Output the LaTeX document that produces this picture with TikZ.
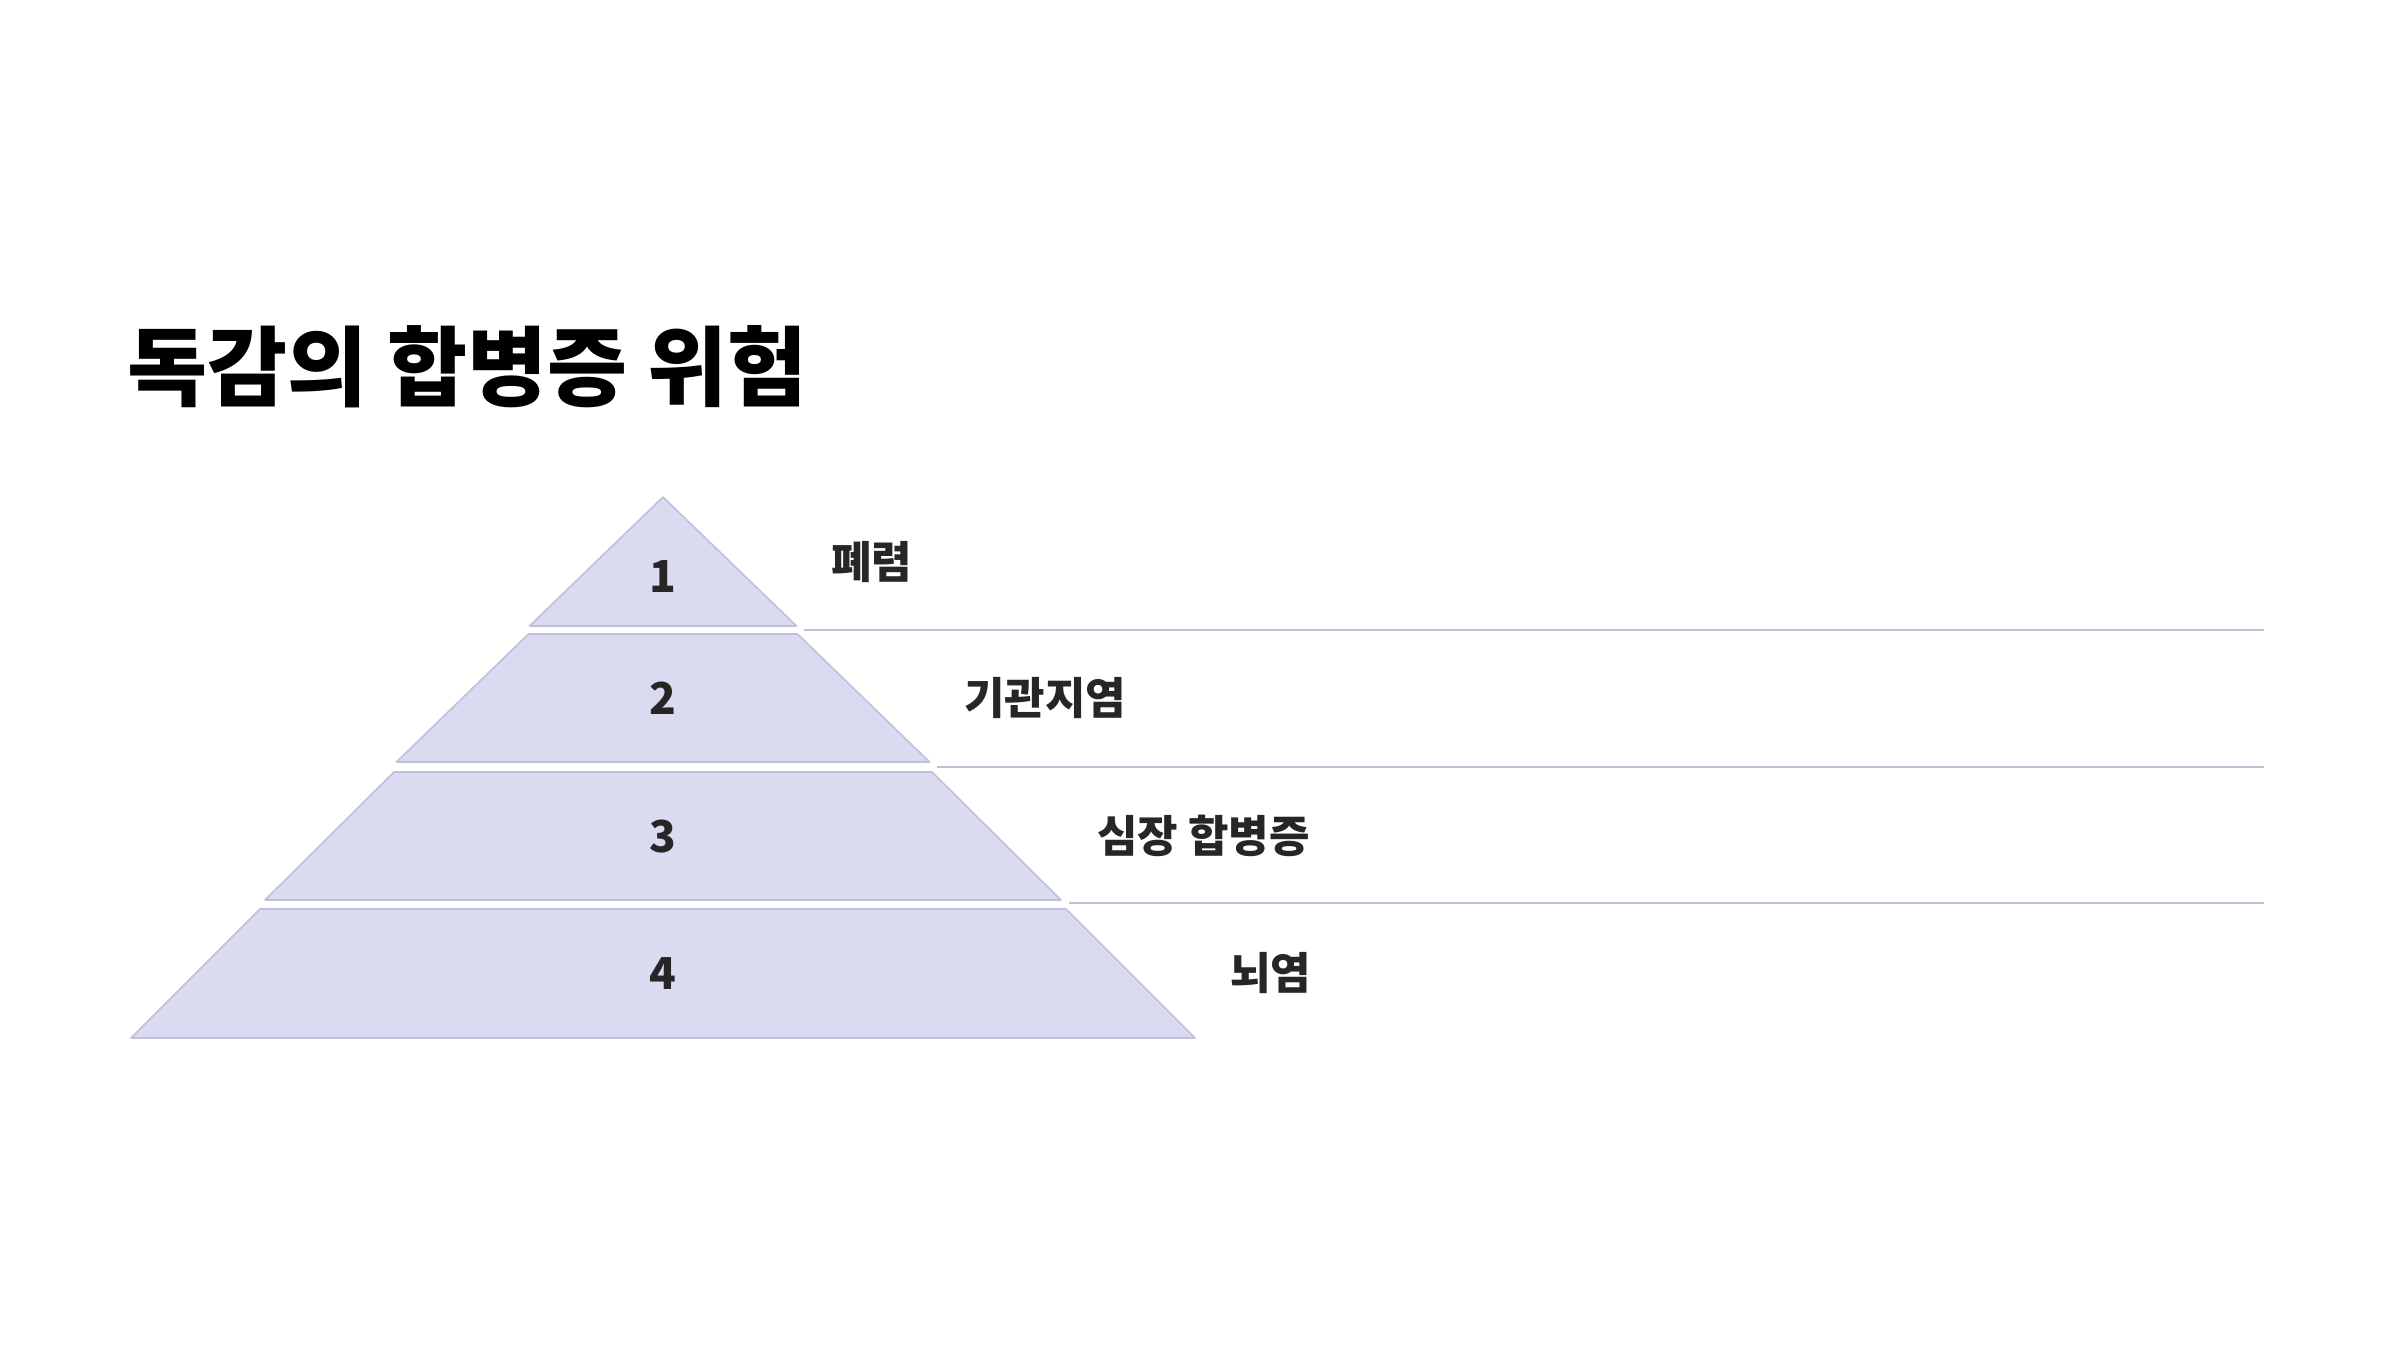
\documentclass[tikz,border=0pt]{standalone}
\usepackage{fontspec}
\setmainfont{Noto Sans CJK KR}
\definecolor{tierfill}{RGB}{218,218,240}
\definecolor{tierdraw}{RGB}{192,192,220}
\definecolor{sepline}{RGB}{192,192,214}
\definecolor{labeltext}{RGB}{38,38,38}
\begin{document}
\begin{tikzpicture}[x=1pt,y=-1pt,
  tier/.style={fill=tierfill,draw=tierdraw,line width=1.6pt,line join=round},
  sep/.style={draw=sepline,line width=1.8pt},
  num/.style={font=\fontsize{44}{48}\selectfont\bfseries,text=labeltext,anchor=base,inner sep=0pt},
  lab/.style={font=\fontsize{44}{48}\selectfont\bfseries,text=labeltext,anchor=base west,inner sep=0pt},
  ttl/.style={font=\fontsize{87}{92}\selectfont\bfseries,text=black,anchor=base west,inner sep=0pt}]
\useasboundingbox (0,0) rectangle (2400,1350);
\fill[white] (0,0) rectangle (2400,1350);

\node[ttl] (title) at (127,399) {독감의 합병증 위험};

% tiers
\path[tier] (663,497) -- (796.5,626) -- (529.5,626) -- cycle;
\path[tier] (528.5,634) -- (797.5,634) -- (929.5,762) -- (396.5,762) -- cycle;
\path[tier] (394,772) -- (932,772) -- (1061,900) -- (265,900) -- cycle;
\path[tier] (260,909) -- (1066,909) -- (1195,1038) -- (131,1038) -- cycle;

% separator lines
\coordinate (s1a) at (804,630);  \coordinate (s1b) at (2264,630);
\coordinate (s2a) at (937,767);  \coordinate (s2b) at (2264,767);
\coordinate (s3a) at (1069,903); \coordinate (s3b) at (2264,903);
\draw[sep] (s1a) -- (s1b);
\draw[sep] (s2a) -- (s2b);
\draw[sep] (s3a) -- (s3b);

% numbers
\node[num] (n1) at (663,592) {1};
\node[num] (n2) at (663,714) {2};
\node[num] (n3) at (663,852) {3};
\node[num] (n4) at (663,989) {4};

% labels
\node[lab] (l1) at (831,578) {폐렴};
\node[lab] (l2) at (964,714.5) {기관지염};
\node[lab] (l3) at (1097,852) {심장 합병증};
\node[lab] (l4) at (1230,989) {뇌염};
\end{tikzpicture}
\end{document}
